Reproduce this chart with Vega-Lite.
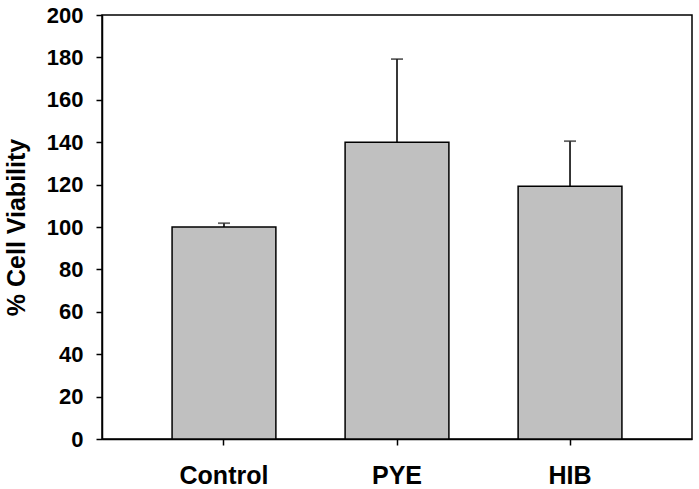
{
  "$schema": "https://vega.github.io/schema/vega-lite/v6.json",
  "width": 590,
  "height": 424,
  "autosize": {"type": "none"},
  "padding": {"left": 102, "top": 15, "right": 7, "bottom": 50},
  "background": "white",
  "config": {
    "view": {"stroke": "black", "strokeWidth": 1.5},
    "font": "Liberation Sans"
  },
  "data": {
    "values": [
      {"group": "Control", "viability": 100, "upper": 101.8},
      {"group": "PYE", "viability": 140, "upper": 179.2},
      {"group": "HIB", "viability": 119.2, "upper": 140.5}
    ]
  },
  "encoding": {
    "x": {
      "field": "group",
      "type": "nominal",
      "sort": ["Control", "PYE", "HIB"],
      "scale": {"paddingInner": 0.4, "paddingOuter": 0.405},
      "axis": {
        "title": null,
        "labelAngle": 0,
        "labelFont": "Liberation Sans",
        "labelFontWeight": "bold",
        "labelFontSize": 25,
        "labelColor": "black",
        "labelPadding": 18,
        "domainColor": "black",
        "domainWidth": 1.5,
        "tickColor": "black",
        "tickWidth": 1.5,
        "tickSize": 6
      }
    }
  },
  "layer": [
    {
      "mark": {"type": "rule", "color": "#222222", "strokeWidth": 1.8},
      "encoding": {
        "y": {"field": "viability", "type": "quantitative"},
        "y2": {"field": "upper"}
      }
    },
    {
      "mark": {"type": "tick", "color": "#222222", "size": 12, "thickness": 1.8},
      "encoding": {
        "y": {"field": "upper", "type": "quantitative"}
      }
    },
    {
      "mark": {"type": "bar", "fill": "#c0c0c0", "stroke": "black", "strokeWidth": 1.5},
      "encoding": {
        "y": {
          "field": "viability",
          "type": "quantitative",
          "scale": {"domain": [0, 200], "nice": false},
          "axis": {
            "title": "% Cell Viability",
            "titleFont": "Liberation Sans",
            "titleFontWeight": "bold",
            "titleFontSize": 25,
            "titleColor": "black",
            "titlePadding": 17,
            "values": [0, 20, 40, 60, 80, 100, 120, 140, 160, 180, 200],
            "grid": false,
            "labelFont": "Liberation Sans",
            "labelFontWeight": "bold",
            "labelFontSize": 22,
            "labelColor": "black",
            "labelPadding": 13,
            "domainColor": "black",
            "domainWidth": 1.5,
            "tickColor": "black",
            "tickWidth": 1.5,
            "tickSize": 6
          }
        }
      }
    }
  ]
}
